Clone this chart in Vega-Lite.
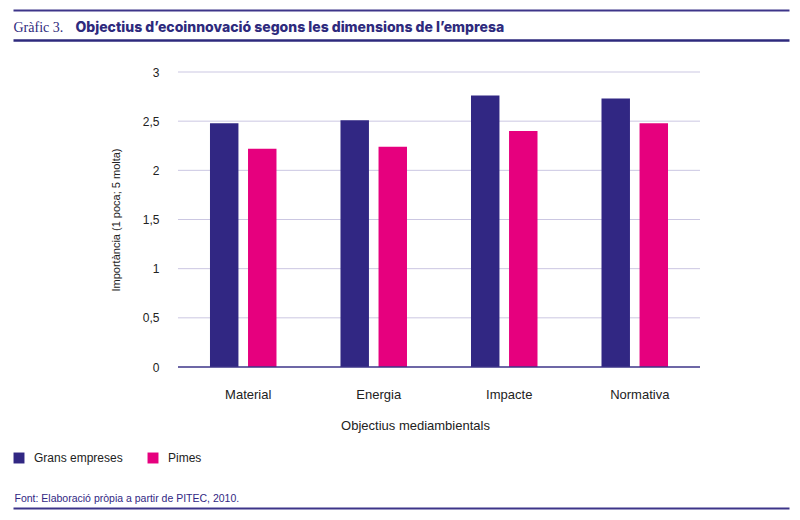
{
  "$schema": "https://vega.github.io/schema/vega-lite/v6.json",
  "width": 776,
  "height": 295,
  "autosize": {"type": "none"},
  "padding": {"left": 13, "top": 72, "right": 11, "bottom": 153},
  "background": "white",
  "config": {
    "font": "Liberation Sans",
    "view": {"stroke": null},
    "axis": {"labelColor": "#222222", "titleColor": "#222222", "labelFontSize": 12, "titleFontWeight": "normal"}
  },
  "data": {
    "values": [
      {"cat": "Material", "group": "Grans empreses", "value": 2.48},
      {"cat": "Material", "group": "Pimes", "value": 2.22},
      {"cat": "Energia", "group": "Grans empreses", "value": 2.51},
      {"cat": "Energia", "group": "Pimes", "value": 2.24},
      {"cat": "Impacte", "group": "Grans empreses", "value": 2.76},
      {"cat": "Impacte", "group": "Pimes", "value": 2.40},
      {"cat": "Normativa", "group": "Grans empreses", "value": 2.73},
      {"cat": "Normativa", "group": "Pimes", "value": 2.48}
    ]
  },
  "encoding": {
    "y": {
      "field": "value",
      "type": "quantitative",
      "scale": {"domain": [0, 3], "nice": false},
      "axis": {
        "orient": "left",
        "offset": -165,
        "domain": false,
        "ticks": false,
        "grid": false,
        "values": [0, 0.5, 1, 1.5, 2, 2.5, 3],
        "labelExpr": "replace(format(datum.value, '.1~f'), '.', ',')",
        "labelPadding": 19,
        "title": "Importància (1 poca; 5 molta)",
        "titleFontSize": 11,
        "titlePadding": 21
      }
    }
  },
  "layer": [
    {
      "data": {"values": [{"value": 0.5}, {"value": 1}, {"value": 1.5}, {"value": 2}, {"value": 2.5}, {"value": 3}]},
      "mark": {"type": "rule", "color": "#cbc7e2", "strokeWidth": 1},
      "encoding": {
        "x": {
          "datum": "Material",
          "type": "nominal",
          "bandPosition": 0,
          "axis": {
            "orient": "top",
            "offset": 62,
            "domain": true,
            "domainColor": "#3d3589",
            "domainWidth": 2,
            "labels": false,
            "ticks": false,
            "grid": false,
            "title": "Gràfic 3.",
            "titleX": 0,
            "titleY": 21,
            "titleAlign": "left",
            "titleAnchor": "start",
            "titleBaseline": "alphabetic",
            "titleFont": "Liberation Serif",
            "titleFontSize": 14,
            "titleFontWeight": "normal",
            "titleColor": "#2e2a7d"
          }
        },
        "x2": {"datum": "Normativa", "bandPosition": 1}
      }
    },
    {
      "mark": {"type": "bar"},
      "encoding": {
        "x": {
          "field": "cat",
          "type": "nominal",
          "scale": {
            "domain": ["Material", "Energia", "Impacte", "Normativa"],
            "paddingInner": 0,
            "paddingOuter": 0.973,
            "align": 0.6496
          },
          "axis": {
            "orient": "bottom",
            "domain": false,
            "ticks": false,
            "grid": false,
            "labelAngle": 0,
            "labelFontSize": 13,
            "labelPadding": 21,
            "labelOffset": 5,
            "title": "Objectius mediambientals",
            "titleFontSize": 13,
            "titlePadding": 18,
            "titleX": 402,
            "titleAnchor": "start",
            "titleAlign": "center"
          }
        },
        "xOffset": {
          "field": "group",
          "type": "nominal",
          "scale": {"paddingInner": 0.252, "paddingOuter": 0.841}
        },
        "color": {
          "field": "group",
          "type": "nominal",
          "scale": {"domain": ["Grans empreses", "Pimes"], "range": ["#312783", "#e6007e"]},
          "legend": {
            "orient": "none",
            "legendX": 0,
            "legendY": 380,
            "direction": "horizontal",
            "title": null,
            "symbolType": "square",
            "symbolSize": 120,
            "symbolStrokeWidth": 0,
            "symbolOpacity": 1,
            "labelFontSize": 12,
            "labelColor": "#222222",
            "labelOffset": 9,
            "columnPadding": 24
          }
        }
      }
    },
    {
      "data": {"values": [{"value": 0}]},
      "mark": {"type": "rule", "color": "#3d3589", "strokeWidth": 1.5},
      "encoding": {
        "x": {
          "datum": "Material",
          "type": "nominal",
          "bandPosition": 0,
          "axis": {
            "orient": "top",
            "offset": 32,
            "domain": true,
            "domainColor": "#2e2a7d",
            "domainWidth": 2.5,
            "labels": false,
            "ticks": false,
            "grid": false,
            "title": "Objectius d’ecoinnovació segons les dimensions de l’empresa",
            "titleX": 62,
            "titleY": -9,
            "titleAlign": "left",
            "titleAnchor": "start",
            "titleBaseline": "alphabetic",
            "titleFont": "Inter",
            "titleFontSize": 14,
            "titleFontWeight": 800,
            "titleColor": "#2e2a7d"
          }
        },
        "x2": {"datum": "Normativa", "bandPosition": 1}
      }
    },
    {
      "data": {"values": [{"cat": "Material"}]},
      "mark": {"type": "point", "opacity": 0},
      "encoding": {
        "x": {
          "field": "cat",
          "type": "nominal",
          "axis": {
            "orient": "bottom",
            "offset": 141,
            "domain": true,
            "domainColor": "#3d3589",
            "domainWidth": 2,
            "labels": false,
            "ticks": false,
            "grid": false,
            "title": "Font: Elaboració pròpia a partir de PITEC, 2010.",
            "titleX": 1,
            "titleY": -7,
            "titleAlign": "left",
            "titleAnchor": "start",
            "titleBaseline": "alphabetic",
            "titleFontSize": 10.5,
            "titleColor": "#312783"
          }
        }
      }
    }
  ],
  "resolve": {"axis": {"x": "independent"}}
}
